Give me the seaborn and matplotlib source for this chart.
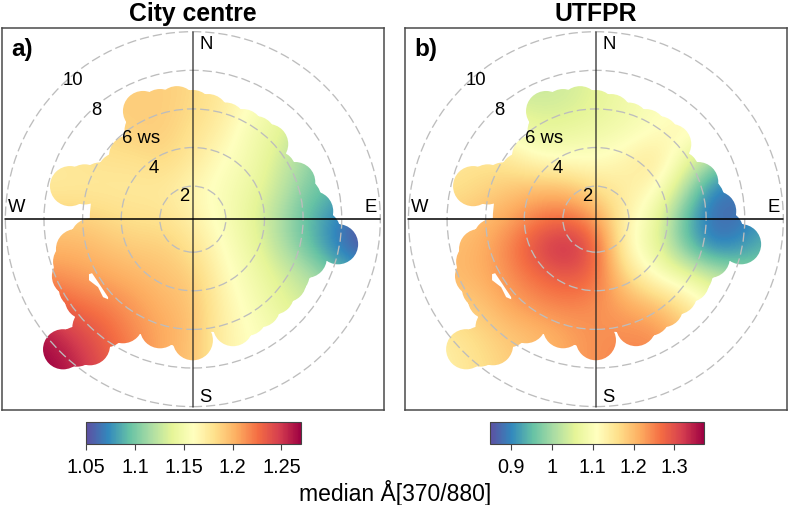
import numpy as np
import matplotlib
matplotlib.use("Agg")
import matplotlib.pyplot as plt
from matplotlib.patches import Circle
from matplotlib.path import Path
import seaborn as sns

sns.set_style("white")
plt.rcParams['font.family'] = ['Liberation Sans', 'DejaVu Sans']
plt.rcParams['text.color'] = 'black'
plt.rcParams['xtick.labelcolor'] = 'black'

titles = ["City centre", "UTFPR"]
panel_tags = ["a)", "b)"]
cbar_label = "median Å[370/880]"
ws_rings = [2, 4, 6, 8, 10]
ring_offset = 0.29
grid_x = [-9, -7.5, -6, -4.5, -3, -1.5, 0, 1.5, 3, 4.5, 6, 7.5, 9]
grid_y = [9, 7.5, 6, 4.5, 3, 1.5, 0, -1.5, -3, -4.5, -6, -7.5, -9]

city_values = [
    [1.19, 1.19, 1.19, 1.19, 1.19, 1.19, 1.185, 1.175, 1.16, 1.15, 1.13, 1.11, 1.09],
    [1.19, 1.19, 1.19, 1.19, 1.19, 1.19, 1.185, 1.175, 1.16, 1.15, 1.13, 1.11, 1.09],
    [1.19, 1.19, 1.19, 1.19, 1.19, 1.19, 1.185, 1.175, 1.16, 1.145, 1.12, 1.10, 1.09],
    [1.18, 1.18, 1.18, 1.185, 1.19, 1.19, 1.18, 1.17, 1.15, 1.14, 1.115, 1.10, 1.09],
    [1.175, 1.175, 1.178, 1.18, 1.18, 1.185, 1.175, 1.16, 1.15, 1.13, 1.11, 1.09, 1.08],
    [1.175, 1.175, 1.175, 1.175, 1.175, 1.175, 1.165, 1.155, 1.145, 1.125, 1.10, 1.09, 1.07],
    [1.19, 1.19, 1.19, 1.185, 1.18, 1.18, 1.17, 1.155, 1.14, 1.115, 1.09, 1.07, 1.05],
    [1.20, 1.20, 1.20, 1.195, 1.19, 1.19, 1.18, 1.16, 1.145, 1.12, 1.095, 1.065, 1.05],
    [1.215, 1.215, 1.21, 1.205, 1.20, 1.195, 1.19, 1.165, 1.15, 1.135, 1.12, 1.10, 1.08],
    [1.24, 1.235, 1.225, 1.22, 1.21, 1.20, 1.195, 1.17, 1.155, 1.14, 1.13, 1.12, 1.10],
    [1.27, 1.26, 1.245, 1.23, 1.215, 1.205, 1.195, 1.17, 1.16, 1.15, 1.14, 1.13, 1.12],
    [1.27, 1.27, 1.255, 1.235, 1.22, 1.20, 1.195, 1.17, 1.16, 1.15, 1.14, 1.13, 1.12],
    [1.27, 1.27, 1.26, 1.24, 1.22, 1.20, 1.195, 1.17, 1.16, 1.15, 1.14, 1.13, 1.12],
]
utfpr_values = [
    [1.03, 1.03, 1.03, 1.03, 1.03, 1.04, 1.06, 1.08, 1.10, 1.10, 1.10, 1.10, 1.10],
    [1.03, 1.03, 1.03, 1.03, 1.03, 1.04, 1.06, 1.08, 1.10, 1.10, 1.10, 1.10, 1.10],
    [1.04, 1.04, 1.04, 1.04, 1.04, 1.04, 1.06, 1.08, 1.10, 1.11, 1.11, 1.10, 1.10],
    [1.12, 1.12, 1.12, 1.10, 1.06, 1.07, 1.08, 1.09, 1.11, 1.13, 1.10, 1.08, 1.05],
    [1.15, 1.15, 1.16, 1.15, 1.12, 1.11, 1.11, 1.13, 1.16, 1.08, 1.00, 0.95, 0.92],
    [1.16, 1.16, 1.17, 1.19, 1.20, 1.20, 1.16, 1.14, 1.12, 1.02, 0.89, 0.88, 0.90],
    [1.18, 1.18, 1.20, 1.22, 1.26, 1.27, 1.23, 1.13, 1.08, 0.95, 0.87, 0.88, 0.93],
    [1.20, 1.20, 1.21, 1.25, 1.31, 1.35, 1.28, 1.12, 1.07, 0.97, 0.89, 0.91, 0.95],
    [1.20, 1.20, 1.21, 1.24, 1.27, 1.29, 1.27, 1.17, 1.11, 1.08, 1.04, 1.00, 0.98],
    [1.17, 1.18, 1.19, 1.22, 1.24, 1.25, 1.24, 1.22, 1.20, 1.16, 1.10, 1.06, 1.04],
    [1.13, 1.15, 1.17, 1.19, 1.20, 1.22, 1.24, 1.24, 1.24, 1.20, 1.16, 1.12, 1.10],
    [1.12, 1.14, 1.16, 1.18, 1.20, 1.22, 1.24, 1.25, 1.25, 1.22, 1.18, 1.14, 1.12],
    [1.12, 1.14, 1.16, 1.18, 1.20, 1.22, 1.24, 1.25, 1.25, 1.22, 1.18, 1.14, 1.12],
]

# Wind-sampled footprint: each disc is one sampled lobe of the surface
lobe_x = [-2.58, -0.82, 0.79, 2.60, 3.90, 5.30, 6.23, 7.52, 4.83, 3.48, 2.08, 0.0, -1.70,
          -3.62, -5.33, -6.72, -5.59, -6.26, -6.05, -6.36, -4.8, -4.6, -4.2, -3.6, -5.3, 5.81, 5.3,
          -1.7, 0.0, 1.7, 3.25, 4.3, 5.6, 6.6, 6.0, 5.9, 5.0, 4.2, 2.8, 1.0, -0.9, -2.7, -4.5,
          -5.2, -6.0, -4.8, -4.5, -5.0, -4.4, -5.2, -6.2, -5.9, -5.6, -3.3, -3.9, -2.5, 3.0]
lobe_y = [5.60, 5.85, 5.44, 4.66, 3.89, 1.92, 0.41, -1.30, -3.26, -4.56, -5.54, -6.27, -5.65,
          -5.39, -6.53, -6.74, -4.15, -2.95, -1.55, 1.71, 1.9, -2.0, -3.6, -4.2, -1.0, -1.55, -2.33,
          5.7, 5.65, 5.0, 4.3, 2.5, 1.1, -0.6, -0.9, -2.0, -2.9, -3.9, -5.0, -4.8, -5.5, -4.9, -5.6,
          -5.6, -6.6, -4.66, -1.0, -2.5, -3.0, -3.5, -2.2, -3.6, 1.8, 3.3, 2.4, 4.6, 3.6]
lobe_radius = 1.04
core_radius = 5.44
gap_x = [-5.38, -5.22, -4.91, -4.39, -4.39, -4.65, -4.91, -5.38]
gap_y = [-2.85, -2.80, -3.26, -4.04, -4.15, -4.04, -3.52, -3.16]

limits = [(1.05, 1.27), (0.849, 1.372)]
cbar_ticks = [[1.05, 1.1, 1.15, 1.2, 1.25], [0.9, 1, 1.1, 1.2, 1.3]]
cbar_ticklabels = [["1.05", "1.1", "1.15", "1.2", "1.25"], ["0.9", "1", "1.1", "1.2", "1.3"]]

W, H = 789, 506
fig = plt.figure(figsize=(W / 100, H / 100), dpi=100, facecolor="white")
cmap = sns.color_palette("Spectral_r", as_cmap=True)


def axes_px(x0, y0, x1, y1):
    return fig.add_axes([x0 / W, 1 - y1 / H, (x1 - x0) / W, (y1 - y0) / H])


def footprint():
    discs = [Path.circle((0.1, 0), core_radius)]
    for x, y in zip(lobe_x, lobe_y):
        discs.append(Path.circle((x, y), lobe_radius))
    return Path.make_compound_path(*discs)


panels = [(1.7, 384.0, 86.3, 301.0), (404.8, 787.0, 489.7, 704.0)]
for i, values in enumerate([city_values, utfpr_values]):
    x0, x1, cx0, cx1 = panels[i]
    ax = axes_px(x0, 29, x1, 411.3)
    half = 9.9
    step = abs(grid_x[1] - grid_x[0]) / 2
    im = ax.imshow(values, cmap=cmap, vmin=limits[i][0], vmax=limits[i][1],
                   extent=[grid_x[0] - step, grid_x[-1] + step, grid_y[-1] - step, grid_y[0] + step],
                   interpolation="bicubic", origin="upper", aspect="equal", zorder=1)
    im.set_clip_path(footprint(), transform=ax.transData)
    ax.fill(gap_x, gap_y, color="white", lw=0, zorder=1.5)
    ax.set_xlim(-half, half)
    ax.set_ylim(-half, half)
    for ws in ws_rings:
        ax.add_patch(Circle((0, 0), ws - ring_offset, fill=False, ec="#bdbdbd", lw=0.95,
                            ls=(0, (7, 3)), zorder=2))
    ax.plot([0, 0], [-9.71, 9.71], color="#222222", lw=1.1, alpha=0.8, zorder=3)
    ax.plot([-9.71, 9.71], [0, 0], color="#000000", lw=1.1, zorder=3)
    ax.set_xticks([])
    ax.set_yticks([])
    for s in ax.spines.values():
        s.set_color("#4a4a4a")
        s.set_linewidth(1.1)
    fs = 13.3
    ax.text(0.32, 9.1, "N", fontsize=fs, ha="left", va="center")
    ax.text(0.32, -9.2, "S", fontsize=fs, ha="left", va="center")
    ax.text(-9.15, 0.67, "W", fontsize=fs, ha="center", va="center")
    ax.text(9.2, 0.67, "E", fontsize=fs, ha="center", va="center")
    ax.text(-6.2, 7.25, "10", fontsize=fs, ha="center", va="center")
    ax.text(-5.0, 5.7, "8", fontsize=fs, ha="center", va="center")
    ax.text(-2.7, 4.25, "6 ws", fontsize=fs, ha="center", va="center")
    ax.text(-2.0, 2.7, "4", fontsize=fs, ha="center", va="center")
    ax.text(-0.45, 1.2, "2", fontsize=fs, ha="center", va="center")
    ax.text(-9.42, 8.85, panel_tags[i], fontsize=17.5, fontweight="bold", ha="left", va="center")
    ax.set_title(titles[i], fontsize=17.8, fontweight="bold", pad=6, color="black")

    cax = axes_px(cx0, 423, cx1, 445)
    cb = fig.colorbar(im, cax=cax, orientation="horizontal")
    cb.set_ticks(cbar_ticks[i])
    cb.set_ticklabels(cbar_ticklabels[i])
    cb.ax.tick_params(length=4.2, width=0.8, color="#444444", labelsize=14.3, pad=5, bottom=True)
    cb.outline.set_edgecolor("#444444")
    cb.outline.set_linewidth(0.8)

fig.text(395 / W, 1 - 493 / H, cbar_label, fontsize=16.5, ha="center", va="center", color="black")
fig.savefig("out.png", dpi=100, facecolor="white")
